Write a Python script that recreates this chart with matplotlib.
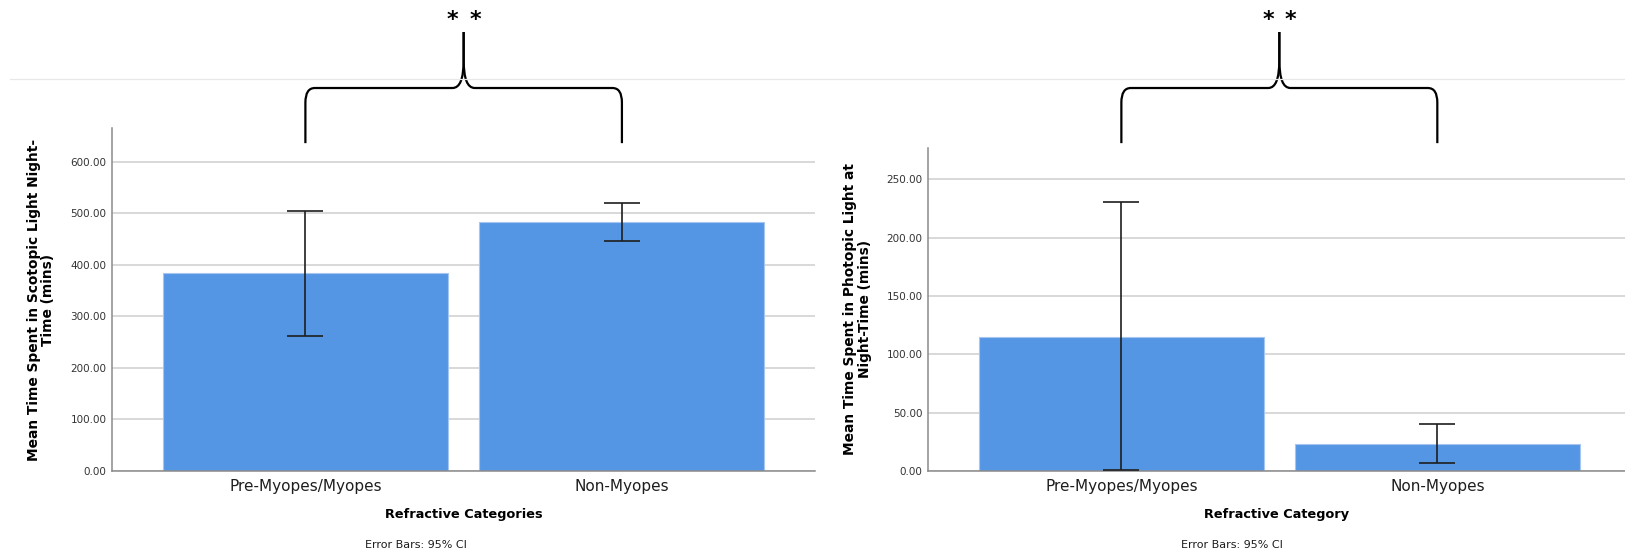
import matplotlib.pyplot as plt
import numpy as np
from matplotlib.path import Path
from matplotlib.patches import PathPatch
from matplotlib.lines import Line2D
from matplotlib.transforms import blended_transform_factory

categories = ['Pre-Myopes/Myopes', 'Non-Myopes']

# scotopic light exposure, mean and 95% CI (mins)
scotopic_mean = [384, 484]
scotopic_lo = [263, 447]
scotopic_hi = [505, 521]
scotopic_ticks = [0, 100, 200, 300, 400, 500, 600]

# photopic light exposure, mean and 95% CI (mins)
photopic_mean = [114.6, 23.4]
photopic_lo = [0.5, 6.9]
photopic_hi = [230.3, 40.0]
photopic_ticks = [0, 50, 100, 150, 200, 250]

W, H = 1625, 557
fig = plt.figure(figsize=(W / 100, H / 100), dpi=100)

bar_color = '#5596e4'
grid_color = '#d6d6d6'
spine_color = '#8a8a8a'


def bar_panel(ax, mean, lo, hi, ticks, ylim, xlim, ylabel, xlabel):
    x = np.arange(len(categories))
    mean = np.array(mean)
    err = [mean - np.array(lo), np.array(hi) - mean]
    ax.bar(x, mean, width=0.9, color=bar_color, edgecolor='#a6c6ef',
           linewidth=0.8, zorder=2)
    ax.errorbar(x, mean, yerr=err, fmt='none', ecolor='#1e1e1e',
                elinewidth=1.2, capsize=13, capthick=1.2, zorder=3)
    ax.set_xlim(*xlim)
    ax.set_ylim(*ylim)
    ax.set_yticks(ticks)
    ax.set_yticklabels([f'{t:.2f}' for t in ticks])
    ax.set_xticks(x)
    ax.set_xticklabels(categories)
    ax.yaxis.grid(True, color=grid_color, linewidth=1.3, zorder=0)
    ax.set_axisbelow(True)
    for s in ['top', 'right']:
        ax.spines[s].set_visible(False)
    for s in ['left', 'bottom']:
        ax.spines[s].set_color(spine_color)
        ax.spines[s].set_linewidth(1.1)
    ax.tick_params(axis='y', length=0, pad=4, labelsize=7.5, labelcolor='#333333')
    ax.tick_params(axis='x', length=0, pad=6, labelsize=11, labelcolor='#1e1e1e')
    ax.set_ylabel(ylabel, fontsize=9.9, fontweight='bold', linespacing=1.05)
    ax.yaxis.set_label_coords(-0.081, 0.5)
    ax.set_xlabel(xlabel, fontsize=9.3, fontweight='bold')


def brace(ax, x0, x1, y_bot=0.743, y_bar=0.842, y_top=0.9425):
    # curly bracket above the two bars, x in data units, y in figure fraction
    tr = blended_transform_factory(ax.transData, fig.transFigure)
    xm = (x0 + x1) / 2
    rx, ry = 0.03, 0.026
    cx, cy = 0.035, 0.05
    for sgn, xe in [(1, x0), (-1, x1)]:
        verts = [(xe, y_bot), (xe, y_bar - ry), (xe, y_bar), (xe + sgn * rx, y_bar),
                 (xm - sgn * cx, y_bar), (xm, y_bar), (xm, y_bar + cy), (xm, y_top)]
        codes = [Path.MOVETO, Path.LINETO, Path.CURVE3, Path.CURVE3,
                 Path.LINETO, Path.CURVE3, Path.CURVE3, Path.LINETO]
        ax.add_patch(PathPatch(Path(verts, codes), fill=False, lw=1.6,
                               edgecolor='black', transform=tr, clip_on=False,
                               capstyle='butt'))
    for dx in (-0.036, 0.036):
        ax.text(xm + dx, 0.953, '*', transform=tr, ha='center', va='baseline',
                fontsize=16, fontweight='bold')


ax1 = fig.add_axes([112 / W, 1 - 471 / H, 703 / W, 343 / H])
bar_panel(ax1, scotopic_mean, scotopic_lo, scotopic_hi, scotopic_ticks,
          (0, 666), (-0.611, 1.61),
          'Mean Time Spent in Scotopic Light Night-\nTime (mins)',
          'Refractive Categories')
ax1.xaxis.set_label_coords(0.5, -0.108)

ax2 = fig.add_axes([928 / W, 1 - 471 / H, 697 / W, 323.3 / H])
bar_panel(ax2, photopic_mean, photopic_lo, photopic_hi, photopic_ticks,
          (0, 277), (-0.612, 1.594),
          'Mean Time Spent in Photopic Light at\nNight-Time (mins)',
          'Refractive Category')
ax2.xaxis.set_label_coords(0.5, -0.115)

brace(ax1, 0, 1)
brace(ax2, 0, 1)

# thin separator across the top
fig.add_artist(Line2D([10 / W, 1], [1 - 79 / H] * 2, color='#e8e8e8', lw=0.9))

for ax in (ax1, ax2):
    x0 = ax.get_position().x0
    fig.text(x0 + 253 / W, 1 - 544.5 / H, 'Error Bars: 95% CI', ha='left',
             va='center', fontsize=8, color='#1e1e1e')

fig.savefig('out.png', dpi=100)
